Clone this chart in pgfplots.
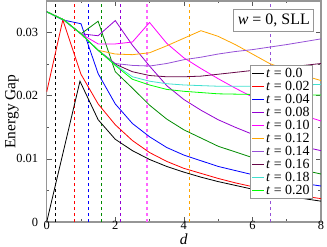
\documentclass[border=0pt]{standalone}
\usepackage{pgfplots}
\pgfplotsset{compat=1.18}
\usepackage{fontspec}
\setmainfont{Liberation Serif}
\definecolor{xviolet}{RGB}{148,0,211}
\definecolor{xmagenta}{RGB}{255,0,255}
\definecolor{xorange}{RGB}{255,165,0}
\definecolor{xindigo}{RGB}{150,80,215}
\definecolor{xmaroon}{RGB}{103,7,72}
\definecolor{xturq}{RGB}{64,224,208}
\definecolor{xgreen}{RGB}{0,255,0}
\definecolor{xgreenfour}{RGB}{0,139,0}
\definecolor{framegray}{RGB}{150,150,150}
\begin{document}
\begin{tikzpicture}
\begin{axis}[
  at={(0,0)}, anchor=south west,
  width=274.3bp, height=221bp, scale only axis,
  xmin=0, xmax=8, ymin=0, ymax=0.035,
  xtick={0,2,4,6,8}, xticklabels={0,2,4,6,8},
  minor xtick={1,3,5,7},
  ytick={0,0.01,0.02,0.03}, yticklabels={0,0.01,0.02,0.03},
  minor ytick={0.005,0.015,0.025},
  scaled y ticks=false,
  tick align=inside,
  major tick length=5bp, minor tick length=2.5bp,
  axis line style={framegray, line width=1.2bp},
  every tick/.style={black!65, line width=0.6bp},
  tick label style={font=\fontsize{12.5}{12.5}\selectfont},
  yticklabel style={xshift=-5bp},
  xticklabel style={yshift=2bp, inner sep=1.5bp},
  xlabel={\textit{d}}, ylabel={Energy Gap},
  label style={font=\fontsize{15.5}{15.5}\selectfont},
  xlabel style={at={(axis description cs:0.5,-0.076)}, anchor=center, inner sep=0pt},
  ylabel style={at={(axis description cs:-0.127,0.5)}, anchor=center},
  every axis plot/.append style={line width=0.8bp, mark=none},
  legend style={at={(rel axis cs:0.971,0.710)}, anchor=north east,
    draw=framegray, line width=0.8bp, fill=white,
    font=\fontsize{14}{14}\selectfont,
    nodes={inner xsep=1.5bp, inner ysep=1.2bp, text height=9.3bp, text depth=1.3bp},
    row sep=0pt, cells={anchor=west}, inner sep=1.5bp},
  legend image code/.code={\draw[#1, line width=0.8bp] (2bp,0bp) -- (14bp,0bp);},
]
% vertical dashed lines
\addplot[black, dashed, forget plot] coordinates {(0.26,0) (0.26,0.035)};
\addplot[red, dashed, forget plot] coordinates {(0.82,0) (0.82,0.035)};
\addplot[blue, dashed, forget plot] coordinates {(1.21,0) (1.21,0.035)};
\addplot[xgreenfour, dashed, forget plot] coordinates {(1.60,0) (1.60,0.035)};
\addplot[xviolet, dashed, forget plot] coordinates {(2.15,0) (2.15,0.035)};
\addplot[xmagenta!60, dashed, line width=1.4bp, forget plot] coordinates {(2.92,0) (2.92,0.035)};
\addplot[xorange, dashed, forget plot] coordinates {(4.16,0) (4.16,0.035)};
\addplot[xindigo, dashed, forget plot] coordinates {(6.51,0) (6.51,0.035)};
% t = 0.0
\addplot[black] coordinates {(0,0) (0.97,0.0223) (1.5,0.0162) (2.0,0.0131) (2.5,0.0113) (3.0,0.0099) (3.5,0.0088) (4.0,0.0079) (4.5,0.0071) (5,0.0064) (5.5,0.0058) (6,0.0052) (6.5,0.0047) (7,0.0042) (7.5,0.0037) (8,0.0033)};
\addlegendentry{\textit{t} = 0.0}
% t = 0.02
\addplot[red] coordinates {(0,0.0206) (0.47,0.0320) (1.0,0.0234) (1.5,0.0187) (2.0,0.0154) (2.5,0.0129) (3.0,0.0110) (3.5,0.0096) (4.0,0.0085) (4.5,0.0077) (5,0.0069) (5.5,0.0062) (6,0.0056) (6.5,0.0051) (7,0.0046) (7.5,0.0041) (8,0.0037)};
\addlegendentry{\textit{t} = 0.02}
% t = 0.04
\addplot[blue] coordinates {(0,0.0333) (0.47,0.0320) (1.0,0.0314) (1.5,0.0235) (2.0,0.0187) (2.5,0.0156) (3.0,0.0135) (3.5,0.0118) (4.0,0.0106) (5,0.0088) (6,0.0075) (7,0.0065) (8,0.0057)};
\addlegendentry{\textit{t} = 0.04}
% t = 0.06 (no legend entry)
\addplot[xgreenfour, forget plot] coordinates {(0,0.0333) (0.5,0.0320) (1.0,0.0298) (1.5,0.0318) (2.0,0.0238) (2.5,0.0212) (3.0,0.0185) (3.5,0.0163) (4.0,0.0146) (5,0.0120) (6,0.0102) (7,0.0088) (8,0.0076)};
% t = 0.08
\addplot[xviolet] coordinates {(0,0.0333) (0.5,0.0320) (1.0,0.0298) (1.5,0.0295) (2.0,0.0319) (2.5,0.0280) (3.0,0.0247) (3.5,0.0216) (4.0,0.0194) (4.5,0.0177) (5,0.0162) (5.5,0.0150) (6,0.0139) (7,0.0125) (8,0.0113)};
\addlegendentry{\textit{t} = 0.08}
% t = 0.10
\addplot[xmagenta] coordinates {(0,0.0333) (0.5,0.0320) (1.0,0.0298) (1.5,0.0282) (2.0,0.0282) (2.5,0.0285) (3.0,0.0316) (3.5,0.0283) (4.0,0.0260) (4.5,0.0243) (5,0.0227) (5.5,0.0212) (6,0.0198) (7,0.0177) (8,0.0160)};
\addlegendentry{\textit{t} = 0.10}
% t = 0.12
\addplot[xorange] coordinates {(0,0.0333) (0.5,0.0320) (1.0,0.0298) (1.5,0.0272) (2.0,0.0266) (2.5,0.0265) (3.0,0.0268) (3.5,0.0279) (4.0,0.0291) (4.5,0.0303) (5.0,0.0294) (5.5,0.0281) (6.0,0.0266) (6.5,0.0251) (7.0,0.0241) (7.5,0.0232) (8.0,0.0224)};
\addlegendentry{\textit{t} = 0.12}
% t = 0.14
\addplot[xindigo] coordinates {(0,0.0333) (0.5,0.0320) (1.0,0.0298) (1.5,0.0272) (2.0,0.0251) (2.5,0.0248) (3.0,0.0247) (3.5,0.0251) (4,0.0257) (4.5,0.0261) (5,0.0266) (5.5,0.0270) (6,0.0273) (7,0.0281) (8,0.0290)};
\addlegendentry{\textit{t} = 0.14}
% t = 0.16
\addplot[xmaroon] coordinates {(0,0.0333) (0.5,0.0320) (1.0,0.0298) (1.5,0.0272) (2.0,0.0250) (2.5,0.0238) (3,0.0232) (3.5,0.0230) (4,0.0230) (4.5,0.0231) (5,0.0234) (5.5,0.0237) (6,0.0240) (7,0.0245) (8,0.0251)};
\addlegendentry{\textit{t} = 0.16}
% t = 0.18
\addplot[xturq] coordinates {(0,0.0333) (0.5,0.0320) (1.0,0.0298) (1.5,0.0272) (2.0,0.0249) (2.5,0.0230) (3,0.0223) (3.5,0.0219) (4,0.0217) (5,0.0215) (6,0.0215) (7,0.0216) (8,0.0218)};
\addlegendentry{\textit{t} = 0.18}
% t = 0.20
\addplot[xgreen] coordinates {(0,0.0333) (0.5,0.0320) (1.0,0.0298) (1.5,0.0272) (2.0,0.0248) (2.5,0.0226) (3,0.0217) (3.5,0.0210) (4,0.0207) (5,0.0203) (6,0.0202) (7,0.0201) (8,0.0201)};
\addlegendentry{\textit{t} = 0.20}
\node[draw=framegray, fill=white, line width=0.8bp, font=\fontsize{16}{16}\selectfont, inner xsep=4bp, inner ysep=4.5bp] at (rel axis cs:0.828,0.914) {\textit{w} = 0, SLL};
\end{axis}
\pgfresetboundingbox
\path (-46.7bp,-25bp) rectangle (280.3bp,222bp);
\end{tikzpicture}
\end{document}
